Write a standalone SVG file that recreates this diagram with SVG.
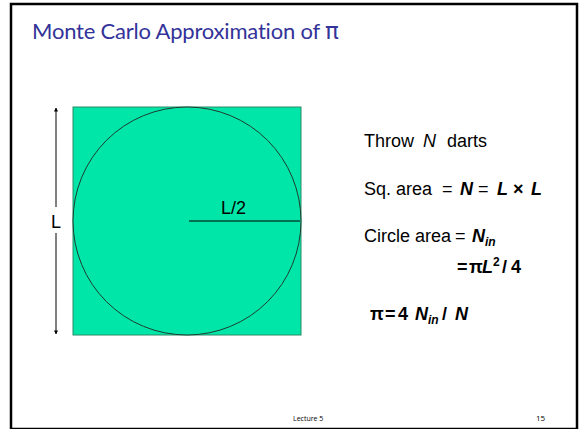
<svg xmlns="http://www.w3.org/2000/svg" width="581" height="429" viewBox="0 0 581 429">
<style>
.t{font-family:"Liberation Sans",Arial,sans-serif;font-size:18px;fill:#000}
.bi{font-weight:bold;font-style:italic}
.bd{font-weight:bold}
.sub{font-size:12px;font-weight:bold;font-style:italic}
.foot{font-family:"Open Sans","Liberation Sans",sans-serif;fill:#000}
</style>
<defs>
<marker id="ah" viewBox="0 0 10 10" refX="9" refY="5" markerWidth="4" markerHeight="5" orient="auto-start-reverse" markerUnits="userSpaceOnUse">
<path d="M0,0 L10,5 L0,10 z" fill="#000"/>
</marker>
</defs>
<rect x="0" y="0" width="581" height="429" fill="#fff"/>
<rect x="11" y="4" width="566" height="425" fill="#fff" stroke="#000" stroke-width="2.5"/>
<text x="32" y="39" fill="#333399" font-family="Lato,'Open Sans',sans-serif" font-size="22" letter-spacing="-0.2">Monte Carlo Approximation of <tspan font-family="'DejaVu Sans',sans-serif" font-size="23">π</tspan></text>
<g id="square">
<rect x="73" y="107" width="228" height="228" fill="#00E5A8" stroke="#2a8a66" stroke-width="1"/>
</g>
<g id="circle">
<circle cx="187" cy="221" r="114" fill="#00E5A8" stroke="#1e3d30" stroke-width="1"/>
</g>
<g id="connectors">
<line x1="189" y1="221" x2="300" y2="221" stroke="#000" stroke-width="1.2"/>
<line x1="56" y1="207" x2="56" y2="108" stroke="#000" stroke-width="1" marker-end="url(#ah)"/>
<line x1="56" y1="233" x2="56" y2="334" stroke="#000" stroke-width="1" marker-end="url(#ah)"/>
</g>
<text class="t" x="221" y="214" font-size="16">L/2</text>
<text class="t" x="51" y="228" font-size="16">L</text>
<g id="text">
<text class="t" y="147"><tspan x="364">Throw</tspan><tspan x="423" font-style="italic">N</tspan><tspan x="447">darts</tspan></text>
<text class="t" y="195"><tspan x="364">Sq. area</tspan><tspan x="442">=</tspan><tspan x="460" class="bi">N</tspan><tspan x="478">=</tspan><tspan x="497" class="bi">L</tspan><tspan x="513" class="bd">×</tspan><tspan x="531" class="bi">L</tspan></text>
<text class="t" y="242"><tspan x="364">Circle area</tspan><tspan x="455">=</tspan><tspan x="472" class="bi">N</tspan><tspan class="sub" dy="4">in</tspan></text>
<text class="t bd" y="273"><tspan x="457">=</tspan><tspan x="469">π</tspan><tspan x="482" font-style="italic">L</tspan><tspan x="493" font-size="12" dy="-7">2</tspan><tspan x="502" dy="7">/</tspan><tspan x="511">4</tspan></text>
<text class="t bd" y="320"><tspan x="370">π</tspan><tspan x="385">=</tspan><tspan x="398">4</tspan><tspan x="415" font-style="italic">N</tspan><tspan class="sub" dy="4">in</tspan><tspan x="442" dy="-4">/</tspan><tspan x="455" font-style="italic">N</tspan></text>
</g>
<text class="foot" x="293" y="421" font-size="7">Lecture 5</text>
<text class="foot" x="536" y="421" font-size="8">15</text>
</svg>
